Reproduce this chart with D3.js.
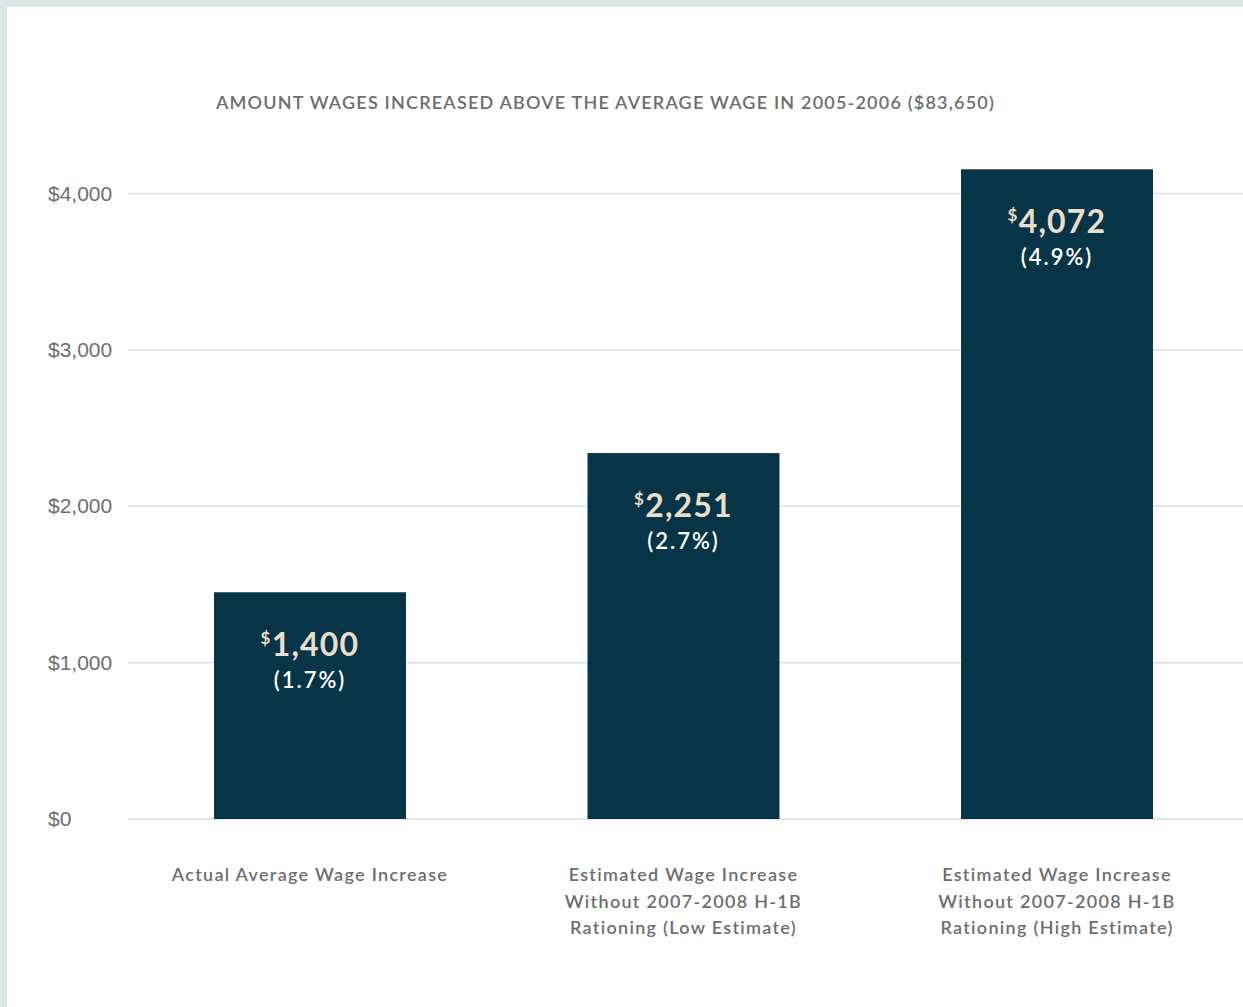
<!DOCTYPE html>
<html>
<head>
<meta charset="utf-8">
<script src="https://cdn.jsdelivr.net/npm/d3@7"></script>
<style>
  body { margin: 0; background: #d9e7e7; }
  #chart { position: absolute; left: 7px; top: 7px; width: 1236px; height: 1000px; background: #fff; }
  text { font-family: Lato, "Open Sans", sans-serif; }
</style>
</head>
<body>
<div id="chart"></div>
<script>
// data
var categories = [
  ["Actual Average Wage Increase"],
  ["Estimated Wage Increase", "Without 2007-2008 H-1B", "Rationing (Low Estimate)"],
  ["Estimated Wage Increase", "Without 2007-2008 H-1B", "Rationing (High Estimate)"]
];
var barValues = [1450, 2340, 4155];
var valueLabels = ["1,400", "2,251", "4,072"];
var pctLabels = ["(1.7%)", "(2.7%)", "(4.9%)"];
var yTicks = [0, 1000, 2000, 3000, 4000];
var title = "AMOUNT WAGES INCREASED ABOVE THE AVERAGE WAGE IN 2005-2006 ($83,650)";

var W = 1243, H = 1007;
var grey = "#6d6e70";

// svg covers whole window, drawn over the white panel
var svg = d3.select("body").append("svg")
    .attr("width", W)
    .attr("height", H)
    .style("position", "absolute")
    .style("left", 0)
    .style("top", 0);

var x = d3.scaleBand()
    .domain(d3.range(categories.length))
    .range([123.25, 1243.75])
    .paddingInner(0.486)
    .paddingOuter(0.243);

var y = d3.scaleLinear()
    .domain([0, 4000])
    .range([819, 193.5]);

// gridlines
svg.selectAll(".grid")
    .data(yTicks)
    .enter().append("line")
    .attr("x1", 128)
    .attr("x2", W)
    .attr("y1", function(d){ return y(d); })
    .attr("y2", function(d){ return y(d); })
    .style("stroke", "#d3e2e4")
    .style("stroke-width", 1.5);

// y labels (left aligned)
svg.selectAll(".ylab")
    .data(yTicks)
    .enter().append("text")
    .attr("x", 48)
    .attr("y", function(d){ return y(d) + 7; })
    .style("font-family", "'Liberation Sans', Arial, sans-serif")
    .style("font-size", "21px")
    .style("fill", grey)
    .text(function(d){ return "$" + d3.format(",")(d); });

// title
svg.append("text")
    .attr("x", 605.5)
    .attr("y", 109)
    .attr("text-anchor", "middle")
    .style("font-size", "18px")
    .style("font-weight", 600)
    .style("letter-spacing", "1.2px")
    .style("fill", grey)
    .text(title);

// bars
svg.selectAll(".bar")
    .data(barValues)
    .enter().append("rect")
    .attr("x", function(d,i){ return x(i); })
    .attr("width", x.bandwidth())
    .attr("y", function(d){ return y(d); })
    .attr("height", function(d){ return y(0) - y(d); })
    .style("fill", "#083448");

// value labels
var vl = svg.selectAll(".val")
    .data(barValues)
    .enter().append("text")
    .attr("x", function(d,i){ return x(i) + x.bandwidth()/2; })
    .attr("y", function(d){ return y(d) + 64; })
    .attr("text-anchor", "middle")
    .style("font-weight", 700)
    .style("fill", "#e9dfcc")
    .style("letter-spacing", "1.2px");
vl.append("tspan")
    .attr("dy", "-12")
    .style("font-size", "17px")
    .text("$");
vl.append("tspan")
    .attr("dy", "12")
    .style("font-size", "32px")
    .text(function(d,i){ return valueLabels[i]; });

svg.selectAll(".pct")
    .data(barValues)
    .enter().append("text")
    .attr("x", function(d,i){ return x(i) + x.bandwidth()/2; })
    .attr("y", function(d){ return y(d) + 96; })
    .attr("text-anchor", "middle")
    .style("font-size", "22px")
    .style("font-weight", 600)
    .style("letter-spacing", "2px")
    .style("fill", "#ffffff")
    .text(function(d,i){ return pctLabels[i]; });

// category labels
var cl = svg.selectAll(".cat")
    .data(categories)
    .enter().append("text")
    .attr("x", function(d,i){ return x(i) + x.bandwidth()/2; })
    .attr("y", 881)
    .attr("text-anchor", "middle")
    .style("font-size", "18px")
    .style("font-weight", 600)
    .style("letter-spacing", "1.3px")
    .style("fill", grey);
cl.selectAll("tspan")
    .data(function(d){ return d; })
    .enter().append("tspan")
    .attr("x", function(){ return d3.select(this.parentNode).attr("x"); })
    .attr("dy", function(d,i){ return i === 0 ? 0 : 26.5; })
    .text(function(d){ return d; });
</script>
</body>
</html>
